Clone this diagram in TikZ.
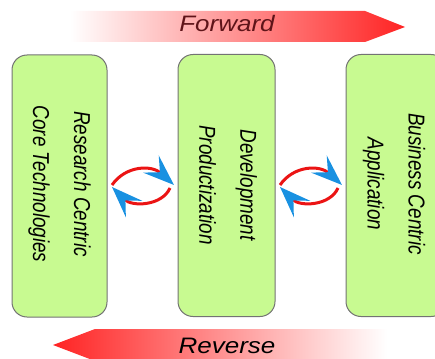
\documentclass[tikz,border=0pt]{standalone}
\usepackage{fontspec}
\setmainfont{Liberation Sans}
\usetikzlibrary{arrows.meta}
\definecolor{stagefill}{RGB}{200,250,145}
\definecolor{stageline}{RGB}{115,115,115}
\definecolor{loopred}{RGB}{235,20,20}
\definecolor{loopblue}{RGB}{25,145,225}
\definecolor{bandred}{RGB}{255,35,35}
\definecolor{fwdtext}{RGB}{95,20,25}

\begin{document}
\begin{tikzpicture}[x=1pt, y=-1pt,
    stage/.style={draw=stageline, line width=1pt, fill=stagefill, rounded corners=15pt, minimum width=95pt, minimum height=262pt},
    stagetext/.style={rotate=-90, xscale=0.82, align=center, font=\fontsize{23}{41}\selectfont\itshape},
    bandtext/.style={anchor=base, yscale=0.86, font=\fontsize{26}{30}\selectfont\itshape},
    loop/.style={draw=loopred, line width=3pt, -{Stealth[length=31pt, width=23pt, inset=12pt, color=loopblue]}}]
			\useasboundingbox (0,0) rectangle (435,358);

			% forward / reverse bands
			\shade[left color=white, right color=bandred] (70,11) -- (365,11) -- (405,27) -- (365,42) -- (70,42) -- cycle;
			\shade[left color=bandred, right color=white] (53,345) -- (95,329) -- (387,329) -- (387,361) -- (95,361) -- cycle;
			\node[bandtext, text=fwdtext] (fwd) at (227,32){Forward};
			\node[bandtext] (rev) at (227,353){Reverse};

			% stages
			\node[stage] (research) at (59.5,186){};
			\node[stage, minimum width=97pt] (develop) at (226.5,185.5){};
			\node[stage, minimum width=100pt] (business) at (396,185.5){};
			\node[stagetext] (researchtxt) at (59.5,184){Research Centric\\Core Technologies};
			\node[stagetext] (developtxt) at (228,185){Development\\Productization};
			\node[stagetext] (businesstxt) at (394,184){Business Centric\\Application};

			% cycles between stages
			\coordinate (cycAl) at (112,185);
			\coordinate (cycAr) at (174,185);
			\coordinate (cycAs) at (170,188);
			\coordinate (cycAe) at (112,187);
			\coordinate (cycBl) at (280,185);
			\coordinate (cycBr) at (342,185);
			\coordinate (cycBs) at (338,188);
			\coordinate (cycBe) at (280,187);

			\path[loop] (cycAl) .. controls +(14,-20) and +(-22,-20) .. (cycAr);
			\path[loop] (cycAs) .. controls +(-8,18) and +(20,20) .. (cycAe);
			\path[loop] (cycBl) .. controls +(14,-20) and +(-22,-20) .. (cycBr);
			\path[loop] (cycBs) .. controls +(-8,18) and +(20,20) .. (cycBe);
\end{tikzpicture}
\end{document}
